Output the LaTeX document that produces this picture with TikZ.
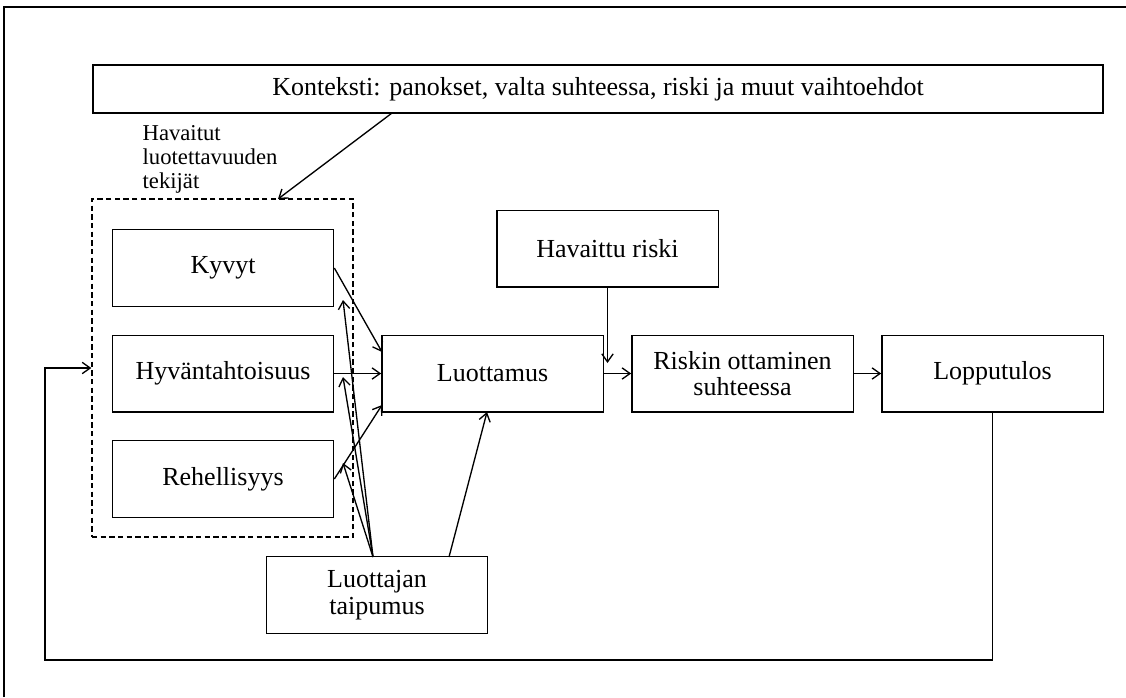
\documentclass[tikz,border=0pt]{standalone}
\usepackage{fontspec}
\setmainfont{Liberation Serif}
\usetikzlibrary{arrows.meta}
\begin{document}
\begin{tikzpicture}[x=0.75pt,y=-0.75pt,
  line width=1pt,
  box/.style={draw,inner sep=0pt,align=center,minimum width=166pt,minimum height=57.5pt,
    font=\fontsize{19.5}{20}\selectfont},
  group/.style={draw,dash pattern=on 4pt off 2.5pt,inner sep=0pt,minimum width=195.75pt,minimum height=253.5pt},
  arr/.style={-{Straight Barb[length=6pt,width=8.5pt]}},
  note/.style={inner sep=0pt,align=left,anchor=north west,font=\fontsize{17}{17.8}\selectfont}]
\useasboundingbox (0,0) rectangle (1126,697);
% frame edges
\draw (4,697) -- (4,7) -- (1126,7);

% context box
\node[box,minimum width=757.5pt,minimum height=36pt] (ctx) at (598,89)
  {Konteksti: panokset, valta suhteessa, riski ja muut vaihtoehdot};

% trustworthiness factors
\node[note] (lbl) at (142,125) {Havaitut\\luotettavuuden\\tekijät};
\node[group] (grp) at (222.5,368) {};
\node[box] (kyv) at (223,268) {Kyvyt};
\node[box] (hyv) at (223,373.5) {Hyväntahtoisuus};
\node[box] (reh) at (223,479) {Rehellisyys};

% main chain
\node[box] (luo) at (492.5,373.5) {Luottamus};
\node[box] (hr) at (607.5,248.5) {Havaittu riski};
\node[box] (rot) at (742.5,373.5) {Riskin ottaminen\\suhteessa};
\node[box] (lop) at (992.5,373.5) {Lopputulos};
\node[box] (tai) at (377,595) {Luottajan\\taipumus};

% connector end points
\coordinate (ctxout) at (392,113);
\coordinate (grpin) at (278,199);
\coordinate (luoA) at (382,352);
\coordinate (luoC) at (382,405);
\coordinate (luoB) at (487,412);
\coordinate (taiA) at (373,557);
\coordinate (taiB) at (449,557);
\coordinate (kyvR) at (343,300);
\coordinate (hyvR) at (343,377);
\coordinate (rehR) at (343,463);
\coordinate (hrend) at (607.5,363);
\coordinate (fb) at (45,660);

\draw[arr] (ctxout) -- (grpin);
\draw[arr] (kyv.east) -- (luoA);
\draw[arr] (hyv.east) -- (luo.west);
\draw[arr] (reh.east) -- (luoC);
\draw[arr] (taiA) -- (kyvR);
\draw[arr] (taiA) -- (hyvR);
\draw[arr] (taiA) -- (rehR);
\draw[arr] (taiB) -- (luoB);
\draw[arr] (hr.south) -- (hrend);
\draw[arr] (luo.east) -- (rot.west);
\draw[arr] (rot.east) -- (lop.west);
\draw[arr] (lop.south) |- (fb) |- (grp.west);
\end{tikzpicture}
\end{document}
